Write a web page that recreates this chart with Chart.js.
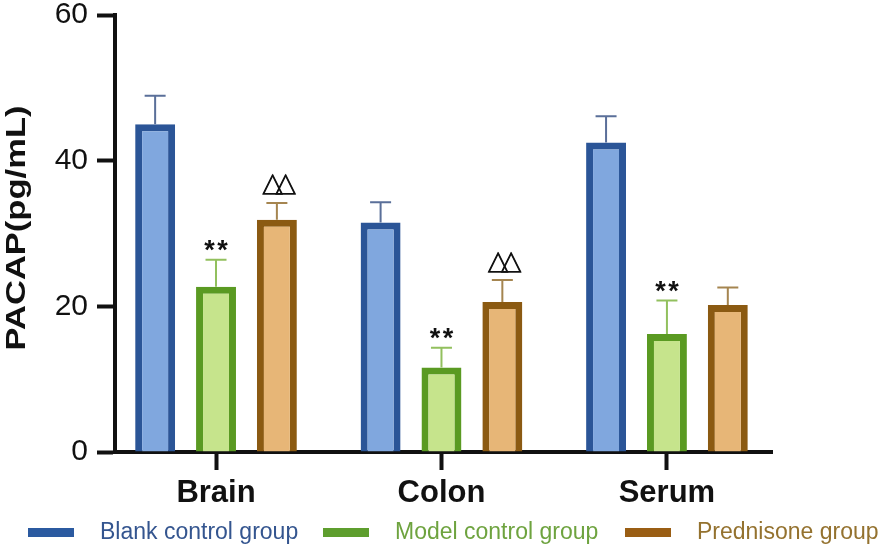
<!DOCTYPE html>
<html>
<head>
<meta charset="utf-8">
<script src="https://cdn.jsdelivr.net/npm/chart.js@4.4.1/dist/chart.umd.min.js"></script>
<style>
  html, body { margin: 0; padding: 0; background: #fff; }
  #wrap { width: 891px; height: 552px; }
</style>
</head>
<body>
<div id="wrap"><canvas id="pacapChart" width="891" height="552"></canvas></div>
<script>
/* ===========================
   DATA
=========================== */

const categories = ["Brain", "Colon", "Serum"];
const groupNames = ["Blank control group", "Model control group", "Prednisone group"];

// mean PACAP (pg/mL)
const blankValues = [45.0, 31.5, 42.5];
const modelValues = [22.7, 11.6, 16.2];
const predValues  = [31.9, 20.6, 20.2];

// upper error (SD)
const blankErr = [3.9, 2.8, 3.6];
const modelErr = [3.7, 2.7, 4.6];
const predErr  = [2.3, 3.0, 2.4];

// significance marks
const blankMarks = ["", "", ""];
const modelMarks = ["**", "**", "**"];
const predMarks  = ["△△", "△△", ""];

const yTicks = [0, 20, 40, 60];

/* ===========================
   STYLES
=========================== */

const groupStyle = [
    { border: '#2b5597', fill: '#80a7de', err: '#5a6f99', legend: '#2b5aa0', text: '#34558f' },
    { border: '#5a9a22', fill: '#c6e48c', err: '#92c05e', legend: '#5e9e2e', text: '#6ea33f' },
    { border: '#8b5a12', fill: '#e7b677', err: '#a58550', legend: '#9a5e14', text: '#94722f' }
];

const allValues = [blankValues, modelValues, predValues];
const allErr = [blankErr, modelErr, predErr];
const allMarks = [blankMarks, modelMarks, predMarks];

const toPoints = arr => arr.map((v, i) => ({ x: i, y: v }));

/* ===========================
   PLUGINS
=========================== */

// upward error bars + significance marks
const errorBars = {
    id: 'errorBars',
    afterDatasetsDraw(chart) {
        const ctx = chart.ctx;
        const yScale = chart.scales.y;
        chart.data.datasets.forEach((ds, d) => {
            const meta = chart.getDatasetMeta(d);
            meta.data.forEach((bar, i) => {
                const top = yScale.getPixelForValue(allValues[d][i] + allErr[d][i]);
                ctx.save();
                ctx.strokeStyle = groupStyle[d].err;
                ctx.lineWidth = 2;
                ctx.beginPath();
                ctx.moveTo(bar.x, bar.y);
                ctx.lineTo(bar.x, top);
                ctx.moveTo(bar.x - 10.5, top);
                ctx.lineTo(bar.x + 10.5, top);
                ctx.stroke();

                const mark = allMarks[d][i];
                if (mark) {
                    const tri = mark.indexOf('△') >= 0;
                    ctx.font = tri ? '27px "DejaVu Sans"' : 'bold 27px "Liberation Sans"';
                    ctx.fillStyle = '#111';
                    ctx.textAlign = 'center';
                    ctx.textBaseline = 'alphabetic';
                    const chars = [...mark];
                    const step = 13;
                    const cy = top - (tri ? 18.5 : 14);
                    chars.forEach((ch, k) => {
                        const m = ctx.measureText(ch);
                        const cx = bar.x + (tri ? 2 : 0) - step * (chars.length - 1) / 2 + k * step;
                        const dy = cy + (m.actualBoundingBoxAscent - m.actualBoundingBoxDescent) / 2;
                        ctx.fillText(ch, cx, dy);
                        if (tri) ctx.fillText(ch, cx + 0.6, dy);
                    });
                }
                ctx.restore();
            });
        });
    }
};

// rotated axis title and custom legend row
const decorations = {
    id: 'decorations',
    afterDraw(chart) {
        const ctx = chart.ctx;

        // y title
        ctx.save();
        ctx.font = 'bold 28px "Liberation Sans"';
        ctx.fillStyle = '#111';
        const w = ctx.measureText('PACAP(pg/mL)').width;
        ctx.translate(25, 228);
        ctx.rotate(-Math.PI / 2);
        ctx.scale(245 / w, 1);
        ctx.textAlign = 'center';
        ctx.textBaseline = 'alphabetic';
        ctx.fillText('PACAP(pg/mL)', 0, 0);
        ctx.restore();

        // legend
        const boxX = [28, 323, 625];
        ctx.save();
        ctx.font = '23px "Liberation Sans"';
        ctx.textBaseline = 'middle';
        ctx.textAlign = 'left';
        groupNames.forEach((name, i) => {
            ctx.fillStyle = groupStyle[i].legend;
            ctx.fillRect(boxX[i], 528, 46, 9);
            ctx.fillStyle = groupStyle[i].text;
            ctx.fillText(name, boxX[i] + 72, 533);
        });
        ctx.restore();
    }
};

/* ===========================
   CHART.JS CONFIGURATION
=========================== */

const ctx = document.getElementById('pacapChart');

new Chart(ctx, {
    type: 'bar',
    data: {
        datasets: allValues.map((vals, d) => ({
            label: groupNames[d],
            data: toPoints(vals),
            backgroundColor: groupStyle[d].fill,
            borderColor: groupStyle[d].border,
            borderWidth: 7,
            categoryPercentage: 0.81,
            barPercentage: 0.656
        }))
    },
    options: {
        responsive: false,
        animation: false,
        layout: {
            padding: { left: 0, right: 119, top: 15, bottom: 0 }
        },
        scales: {
            x: {
                type: 'linear',
                min: -0.448,
                max: 2.466,
                offset: false,
                afterBuildTicks: s => { s.ticks = categories.map((c, i) => ({ value: i })); },
                afterFit: s => { s.height = 100; s.paddingLeft = 0; s.paddingRight = 0; },
                ticks: {
                    callback: v => categories[v],
                    color: '#111',
                    padding: 5,
                    maxRotation: 0,
                    autoSkip: false,
                    font: { family: 'Liberation Sans', size: 31, weight: 'bold' }
                },
                grid: {
                    offset: false,
                    drawOnChartArea: false,
                    drawTicks: true,
                    tickLength: 18,
                    tickWidth: 4,
                    tickColor: '#111'
                },
                border: { display: true, width: 4, color: '#111' }
            },
            y: {
                min: 0,
                max: 60,
                afterBuildTicks: s => { s.ticks = yTicks.map(v => ({ value: v })); },
                afterFit: s => { s.width = 115; s.paddingTop = 0; s.paddingBottom = 0; },
                ticks: {
                    color: '#111',
                    padding: 9,
                    font: { family: 'Liberation Sans', size: 30, lineHeight: 1 }
                },
                grid: {
                    drawOnChartArea: false,
                    drawTicks: true,
                    tickLength: 18,
                    tickWidth: 4,
                    tickColor: '#111'
                },
                border: { display: true, width: 4, color: '#111' }
            }
        },
        plugins: {
            legend: { display: false },
            tooltip: { enabled: false }
        }
    },
    plugins: [errorBars, decorations]
});
</script>
</body>
</html>
